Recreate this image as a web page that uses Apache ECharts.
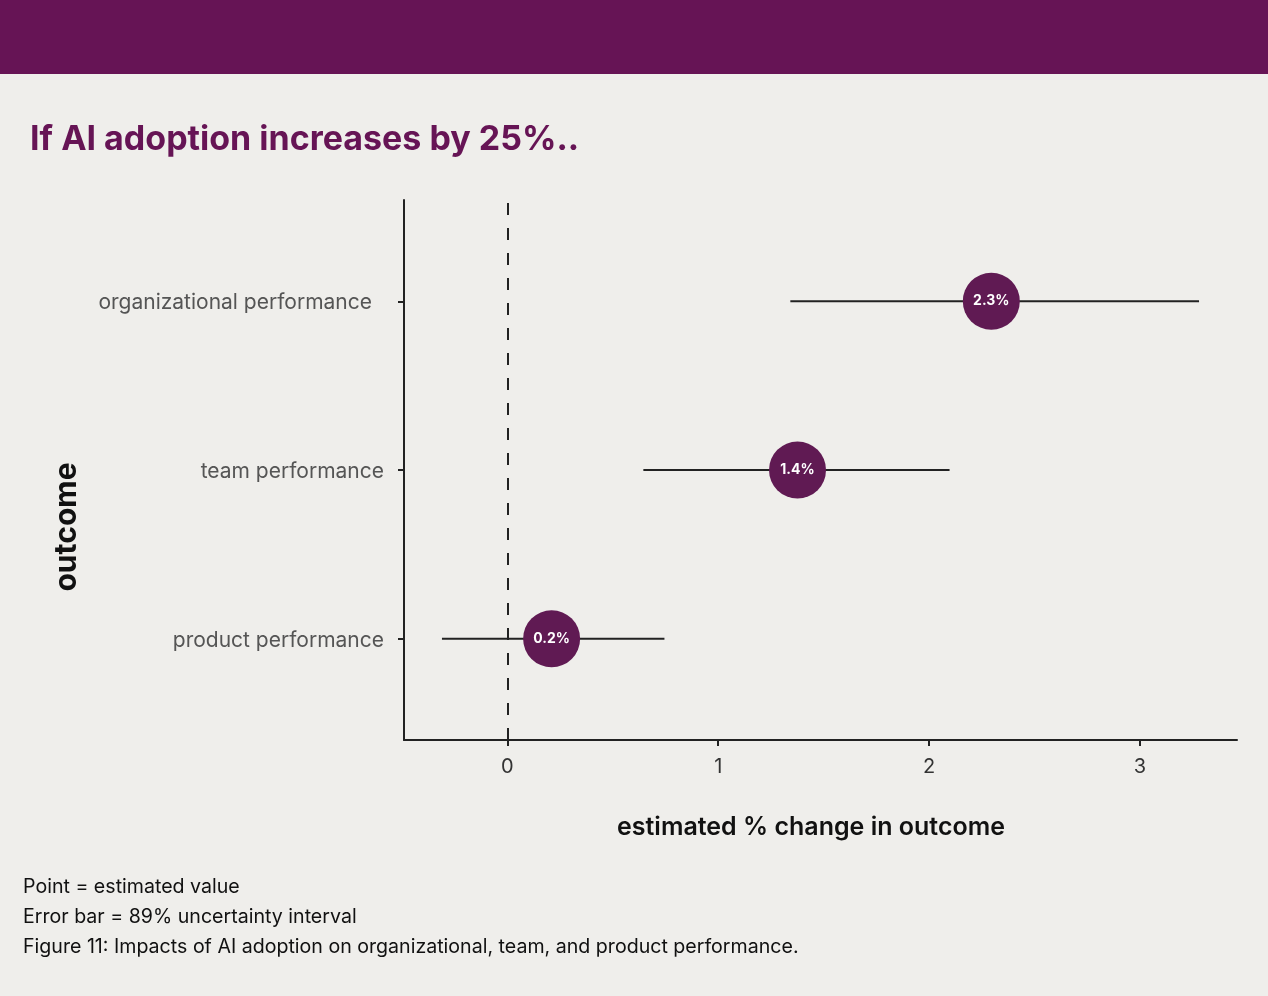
<!DOCTYPE html>
<html><head><meta charset="utf-8">
<script src="https://cdn.jsdelivr.net/npm/echarts@6/dist/echarts.min.js"></script>
<style>html,body{margin:0;padding:0;background:#efeeeb;}#c{width:1268px;height:996px;}</style>
</head><body><div id="c"></div>
<script>
const categories = ['product performance', 'team performance', 'organizational performance'];
const categoryPos = [1, 2, 3];
const estimates = [0.21, 1.376, 2.295];
const lower = [-0.31, 0.645, 1.342];
const upper = [0.745, 2.097, 3.28];
const pointLabels = ['0.2%', '1.4%', '2.3%'];
const xTicks = [0, 1, 2, 3];

const chart = echarts.init(document.getElementById('c'));
const FONT = 'Inter, "Open Sans", sans-serif';
const PURPLE = '#661455';

chart.setOption({
  backgroundColor: '#efeeeb',
  animation: false,
  grid: { left: 404, right: 31, top: 200, bottom: 256, containLabel: false },
  xAxis: {
    type: 'value', min: -0.49, max: 3.46,
    axisLine: { show: true, onZero: false, lineStyle: { color: '#222', width: 2 } },
    axisTick: { show: true, customValues: xTicks, length: 6, lineStyle: { color: '#222', width: 2 } },
    axisLabel: { customValues: xTicks, color: '#333', fontSize: 20, fontFamily: FONT, margin: 17 },
    splitLine: { show: false }
  },
  yAxis: {
    type: 'value', min: 0.4, max: 3.6,
    axisLine: { show: true, onZero: false, lineStyle: { color: '#222', width: 2 } },
    axisTick: { show: true, customValues: categoryPos, length: 6, lineStyle: { color: '#222', width: 2 } },
    axisLabel: {
      customValues: categoryPos, color: '#555', fontSize: 21, fontFamily: FONT, margin: 20,
      formatter: v => {
        const i = categoryPos.indexOf(v);
        return i === 2 ? '{o|' + categories[i] + '}' : '{n|' + (categories[i] || '') + '}';
      },
      rich: {
        o: { color: '#555', fontSize: 21, fontFamily: FONT, padding: [3, 12, 0, 0] },
        n: { color: '#555', fontSize: 21, fontFamily: FONT, padding: [3, 0, 0, 0] }
      }
    },
    splitLine: { show: false }
  },
  graphic: [
    { type: 'rect', left: 0, top: 0, shape: { width: 1268, height: 74 }, style: { fill: PURPLE }, z: 10 },
    { type: 'text', left: 30, top: 123, style: { text: 'If AI adoption increases by 25%..', fill: PURPLE, font: 'bold 34px ' + FONT } },
    { type: 'text', x: 811, y: 827, style: { text: 'estimated % change in outcome', fill: '#111', font: '600 25px ' + FONT, align: 'center', verticalAlign: 'middle' } },
    { type: 'text', x: 67, y: 527, rotation: Math.PI / 2, style: { text: 'outcome', fill: '#111', font: 'bold 30px ' + FONT, align: 'center', verticalAlign: 'middle' } },
    { type: 'text', left: 23, top: 877, style: { text: 'Point = estimated value', fill: '#111', font: '19.6px ' + FONT } },
    { type: 'text', left: 23, top: 907, style: { text: 'Error bar = 89% uncertainty interval', fill: '#111', font: '19.6px ' + FONT } },
    { type: 'text', left: 23, top: 937, style: { text: 'Figure 11: Impacts of AI adoption on organizational, team, and product performance.', fill: '#111', font: '19.6px ' + FONT } }
  ],
  series: [
    {
      type: 'custom',
      data: categoryPos.map((p, i) => [lower[i], upper[i], p]),
      renderItem: (params, api) => {
        const a = api.coord([api.value(0), api.value(2)]);
        const b = api.coord([api.value(1), api.value(2)]);
        return { type: 'line', shape: { x1: a[0], y1: a[1], x2: b[0], y2: b[1] }, style: { stroke: '#222', lineWidth: 2 } };
      },
      z: 2,
      markLine: {
        silent: true, symbol: 'none',
        lineStyle: { color: '#222', type: [12, 13], width: 2 },
        label: { show: false },
        data: [{ xAxis: 0 }]
      }
    },
    {
      type: 'scatter',
      data: categoryPos.map((p, i) => [estimates[i], p]),
      symbolSize: 57,
      itemStyle: { color: '#601a53', opacity: 1 },
      z: 5,
      label: {
        show: true, position: 'inside', color: '#fff', fontSize: 14, fontWeight: 'bold', fontFamily: FONT,
        formatter: p => pointLabels[p.dataIndex]
      }
    }
  ]
});
</script></body></html>
